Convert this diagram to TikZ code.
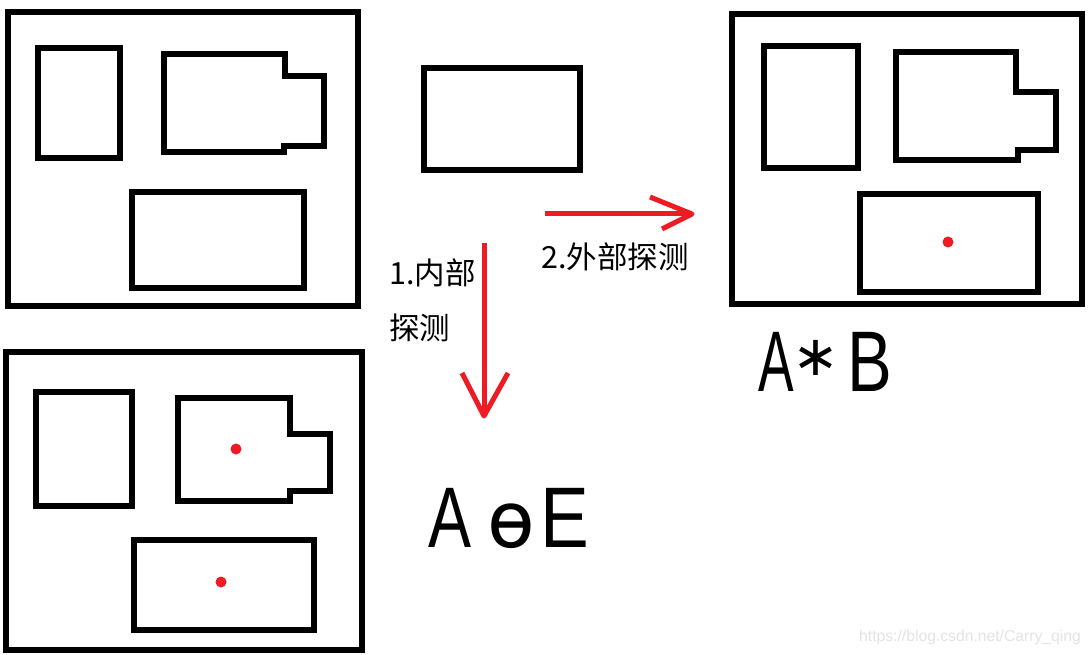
\documentclass[tikz,border=0pt]{standalone}
\usepackage{fontspec}
\setmainfont{Liberation Sans}
\newfontfamily\cjkfont{Noto Sans CJK SC}
\newfontfamily\dvfont{DejaVu Sans}
\definecolor{paintred}{HTML}{ED1C24}
\definecolor{wmgray}{HTML}{E4E4E4}
\begin{document}
\begin{tikzpicture}[x=1pt,y=-1pt,
  box/.style={draw=black,line width=6pt,line join=miter},
  redline/.style={draw=paintred,line width=5pt,line join=round},
  probe/.style={fill=paintred,circle,inner sep=0pt,minimum size=11pt},
  cjklabel/.style={font=\cjkfont\fontsize{30.5}{55}\selectfont,inner sep=0pt,anchor=base west,align=left},
  hand/.style={font=\fontsize{86}{86}\selectfont,inner sep=0pt,anchor=base west},
  watermark/.style={font=\fontsize{15.7}{16}\selectfont,text=wmgray,inner sep=0pt,anchor=base west}
]
\useasboundingbox[fill=white] (0,0) rectangle (1090,655);

% ---- top-left panel (original scene)
\draw[box] (8,12) rectangle (358,306);
\draw[box] (38,48) rectangle (120,158);
\draw[box] (164,54) -- (285,54) -- (285,76) -- (324,76) -- (324,146) -- (284,146) -- (284,152) -- (164,152) -- cycle;
\draw[box] (132,192) rectangle (304,288);

% ---- middle probe object
\draw[box] (424,68) rectangle (580,170);

% ---- right panel (outer probing)
\draw[box] (732,14) rectangle (1082,304);
\draw[box] (764,46) rectangle (858,168);
\draw[box] (896,52) -- (1016,52) -- (1016,92) -- (1056,92) -- (1056,150) -- (1018,150) -- (1018,160) -- (896,160) -- cycle;
\draw[box] (860,194) rectangle (1038,292);
\node[probe] (pr1) at (948,242) {};

% ---- bottom-left panel (inner probing)
\draw[box] (6,352) rectangle (362,650);
\draw[box] (36,392) rectangle (132,506);
\draw[box] (178,398) -- (290,398) -- (290,434) -- (330,434) -- (330,491) -- (290,491) -- (290,501) -- (178,501) -- cycle;
\draw[box] (134,540) rectangle (314,630);
\node[probe] (pl1) at (236,449) {};
\node[probe] (pl2) at (221,582) {};

% ---- arrows
\coordinate (vs) at (484,243);
\coordinate (ve) at (484,416);
\draw[redline] (vs) -- (ve);
\draw[redline] (462,373) -- (ve) -- (508,373);
\coordinate (hs) at (545,214);
\coordinate (he) at (692,214);
\draw[redline] (hs) -- (he);
\draw[redline] (650,197) -- (he) -- (662,229);

% ---- labels
\node[cjklabel] (l1) at (389,339) {1.内部\\探测};
\node[cjklabel] (l2) at (541,269) {2.外部探测};

% ---- handwritten results
\node[hand] (r1) at (428,547) {\scalebox{0.75}[1]{A}\hspace{16pt}{\dvfont\fontsize{78}{78}\selectfont ɵ}\hspace{6pt}\scalebox{0.85}[1]{E}};
\node[hand] (r2) at (758,391) {\scalebox{0.62}[1]{A}\hspace{-1pt}\raisebox{16pt}{\dvfont\fontsize{56}{56}\selectfont ∗}\hspace{8pt}\scalebox{0.78}[1]{B}};

% ---- watermark
\node[watermark] (wm) at (859,641) {https://blog.csdn.net/Carry\_qing};
\end{tikzpicture}
\end{document}
